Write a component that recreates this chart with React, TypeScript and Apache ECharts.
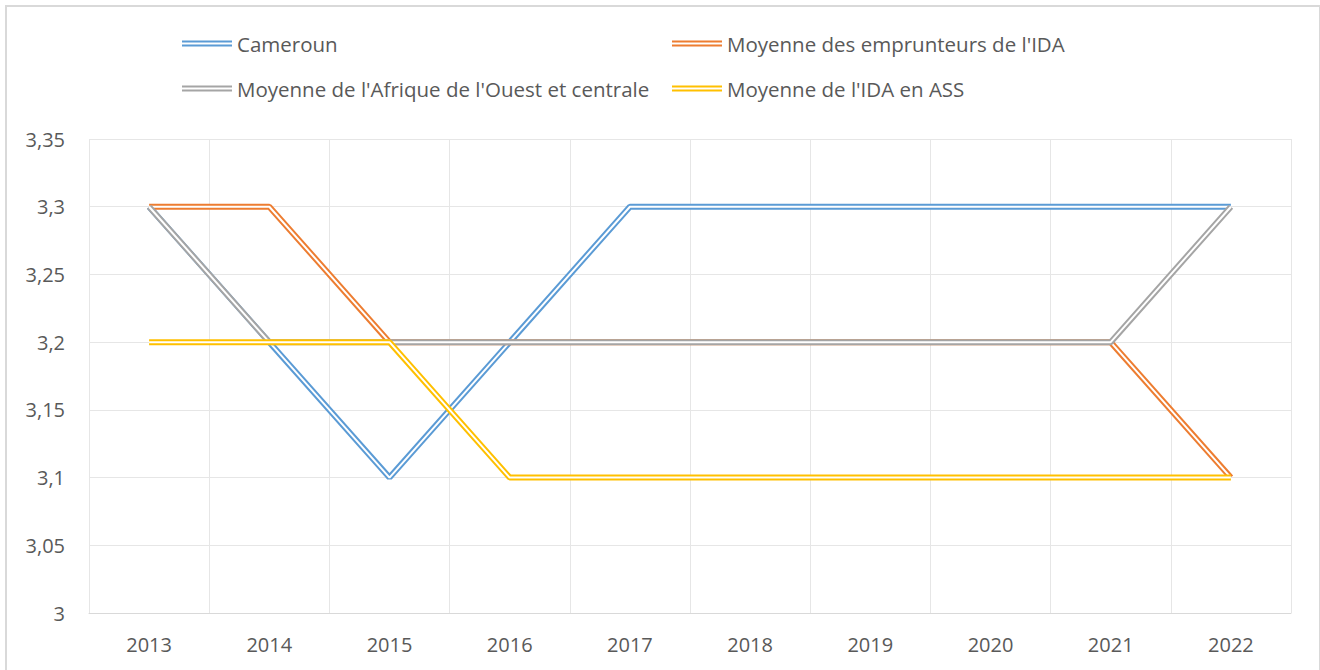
import React, { useEffect, useRef } from "react";
import * as echarts from "echarts";

const years = ["2013", "2014", "2015", "2016", "2017", "2018", "2019", "2020", "2021", "2022"];
const cameroun = [3.3, 3.2, 3.1, 3.2, 3.3, 3.3, 3.3, 3.3, 3.3, 3.3];
const idaBorrowers = [3.3, 3.3, 3.2, 3.2, 3.2, 3.2, 3.2, 3.2, 3.2, 3.1];
const westCentral = [3.3, 3.2, 3.2, 3.2, 3.2, 3.2, 3.2, 3.2, 3.2, 3.3];
const idaSSA = [3.2, 3.2, 3.2, 3.1, 3.1, 3.1, 3.1, 3.1, 3.1, 3.1];

const names = [
  "Cameroun",
  "Moyenne des emprunteurs de l'IDA",
  "Moyenne de l'Afrique de l'Ouest et centrale",
  "Moyenne de l'IDA en ASS",
];
const colors = ["#5B9BD5", "#ED7D31", "#A5A5A5", "#FFC000"];
const seriesData = [cameroun, idaBorrowers, westCentral, idaSSA];

const FONT = "'Open Sans', 'Liberation Sans', Arial, sans-serif";
const ICON = "path://M0,0H50V2H0Z M0,4H50V6H0Z";

export default function App() {
  const ref = useRef<HTMLDivElement>(null);
  useEffect(() => {
    if (!ref.current) return;
    const chart = echarts.init(ref.current, null, { renderer: "svg" });
    const series: any[] = [];
    seriesData.forEach((d, i) => {
      series.push({
        name: names[i],
        type: "line",
        data: d,
        symbol: "none",
        lineStyle: { color: colors[i], width: 6 },
        itemStyle: { color: colors[i] },
      });
      series.push({
        name: names[i] + "_inner",
        type: "line",
        data: d,
        symbol: "none",
        lineStyle: { color: "#ffffff", width: 2 },
        itemStyle: { color: "#ffffff" },
        silent: true,
      });
    });
    const legendPos = [
      { left: 177, top: 28 },
      { left: 667, top: 28 },
      { left: 177, top: 73 },
      { left: 667, top: 73 },
    ];
    chart.setOption({
      animation: false,
      legend: names.map((n, i) => ({
        data: [{ name: n, icon: ICON }],
        left: legendPos[i].left,
        top: legendPos[i].top,
        padding: 5,
        itemWidth: 50,
        itemHeight: 6,
        itemGap: 0,
        textStyle: { fontFamily: FONT, fontSize: 20.5, color: "#595959" },
        selectedMode: false,
      })),
      grid: { left: 89, right: 29, top: 139, bottom: 57, containLabel: false, outerBoundsMode: "none" },
      xAxis: {
        type: "category",
        data: years,
        boundaryGap: true,
        axisLine: { show: true, lineStyle: { color: "#D9D9D9", width: 1 } },
        axisTick: { show: false },
        axisLabel: { fontFamily: FONT, fontSize: 20, color: "#595959", margin: 21 },
        splitLine: { show: true, lineStyle: { color: "#E6E6E6", width: 1 } },
      },
      yAxis: {
        type: "value",
        min: 3,
        max: 3.35,
        interval: 0.05,
        axisLine: { show: false },
        axisTick: { show: false },
        axisLabel: {
          fontFamily: FONT,
          fontSize: 20,
          color: "#595959",
          margin: 24,
          formatter: (v: number) => String(Math.round(v * 100) / 100).replace(".", ","),
        },
        splitLine: { show: true, lineStyle: { color: "#E6E6E6", width: 1 } },
      },
      series,
    });
    return () => chart.dispose();
  }, []);
  return (
    <>
      <div
        ref={ref}
        style={{ position: "absolute", left: 0, top: 0, width: 1320, height: 670, background: "#fff" }}
      />
      <div
        style={{
          position: "absolute",
          left: 5,
          top: 5,
          width: 1316,
          height: 672,
          border: "2px solid #D9D9D9",
          boxSizing: "border-box",
          pointerEvents: "none",
        }}
      />
    </>
  );
}
